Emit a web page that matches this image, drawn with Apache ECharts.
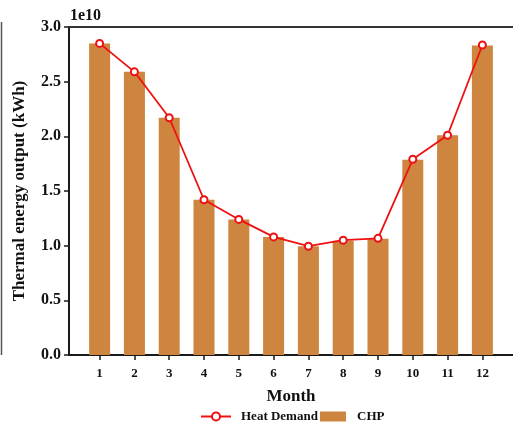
<!DOCTYPE html>
<html>
<head>
<meta charset="utf-8">
<script src="https://cdn.jsdelivr.net/npm/echarts@6/dist/echarts.min.js"></script>
<style>
  html, body { margin: 0; padding: 0; background: #fff; }
  #chart { width: 513px; height: 431px; }
</style>
</head>
<body>
<div id="chart"></div>
<script>
// Monthly thermal energy (kWh)
const months = [1, 2, 3, 4, 5, 6, 7, 8, 9, 10, 11, 12];
const heatDemand = [2.85e10, 2.59e10, 2.17e10, 1.42e10, 1.24e10, 1.08e10, 0.995e10, 1.05e10, 1.067e10, 1.79e10, 2.01e10, 2.835e10];
const chpOutput = [2.85e10, 2.59e10, 2.17e10, 1.42e10, 1.24e10, 1.08e10, 0.995e10, 1.045e10, 1.064e10, 1.786e10, 2.01e10, 2.83e10];
const yTicks = [0, 0.5e10, 1.0e10, 1.5e10, 2.0e10, 2.5e10, 3.0e10];

const FONT = "'Liberation Serif', 'Times New Roman', serif";
const AXIS_COLOR = '#1a1a1a';

const chart = echarts.init(document.getElementById('chart'), null, { renderer: 'canvas' });

chart.setOption({
  animation: false,
  backgroundColor: '#ffffff',
  grid: { left: 69, top: 27, right: -5, bottom: 76, containLabel: false },
  legend: [
    {
      data: ['Heat Demand'],
      left: 195, top: 405,
      itemWidth: 30, itemHeight: 10,
      textStyle: { fontFamily: FONT, fontWeight: 'bold', fontSize: 13, color: '#111', padding: [0, 0, 0, 5] }
    },
    {
      data: [{ name: 'CHP', icon: 'rect' }],
      left: 315, top: 405,
      itemWidth: 26, itemHeight: 10,
      textStyle: { fontFamily: FONT, fontWeight: 'bold', fontSize: 13, color: '#111', padding: [0, 0, 0, 6] }
    }
  ],
  xAxis: [
    {
      type: 'value',
      min: 0.12, max: 12.88,
      name: 'Month',
      nameLocation: 'middle',
      nameGap: 33,
      nameTextStyle: { fontFamily: FONT, fontWeight: 'bold', fontSize: 17, color: '#111' },
      axisLine: { show: true, lineStyle: { color: AXIS_COLOR, width: 2 } },
      axisTick: { show: true, length: 5, lineStyle: { color: AXIS_COLOR, width: 1.5 }, customValues: months },
      axisLabel: { fontFamily: FONT, fontWeight: 'bold', fontSize: 13, color: '#111', margin: 12, customValues: months },
      splitLine: { show: false }
    },
    {
      type: 'value',
      position: 'top',
      min: 0.12, max: 12.88,
      axisLine: { show: true, lineStyle: { color: '#333', width: 2 } },
      axisTick: { show: false },
      axisLabel: { show: false },
      splitLine: { show: false }
    }
  ],
  yAxis: {
    type: 'value',
    min: 0, max: 3e10, interval: 0.5e10,
    name: 'Thermal energy output (kWh)',
    nameLocation: 'middle',
    nameGap: 41,
    nameTextStyle: { fontFamily: FONT, fontWeight: 'bold', fontSize: 17, color: '#111' },
    axisLine: { show: true, lineStyle: { color: AXIS_COLOR, width: 2 } },
    axisTick: { show: true, length: 5, lineStyle: { color: AXIS_COLOR, width: 1.5 } },
    axisLabel: {
      fontFamily: FONT, fontWeight: 'bold', fontSize: 16, color: '#111', margin: 8,
      customValues: yTicks,
      formatter: v => (v / 1e10).toFixed(1)
    },
    splitLine: { show: false }
  },
  graphic: [
    {
      type: 'text', left: 70, top: 8,
      style: { text: '1e10', font: "bold 16px " + FONT, fill: '#111' }
    },
    {
      type: 'line',
      shape: { x1: 1.5, y1: 22, x2: 1.5, y2: 355 },
      style: { stroke: '#555', lineWidth: 1.5 }
    }
  ],
  series: [
    {
      name: 'CHP',
      type: 'bar',
      barWidth: 21,
      itemStyle: { color: '#CD853F' },
      data: months.map((m, i) => [m, chpOutput[i]]),
      z: 2
    },
    {
      name: 'Heat Demand',
      type: 'line',
      symbol: 'circle',
      symbolSize: 7,
      lineStyle: { color: '#EE1111', width: 1.8 },
      itemStyle: { color: '#ffffff', borderColor: '#EE1111', borderWidth: 2 },
      data: months.map((m, i) => [m, heatDemand[i]]),
      z: 3
    }
  ]
});
</script>
</body>
</html>
